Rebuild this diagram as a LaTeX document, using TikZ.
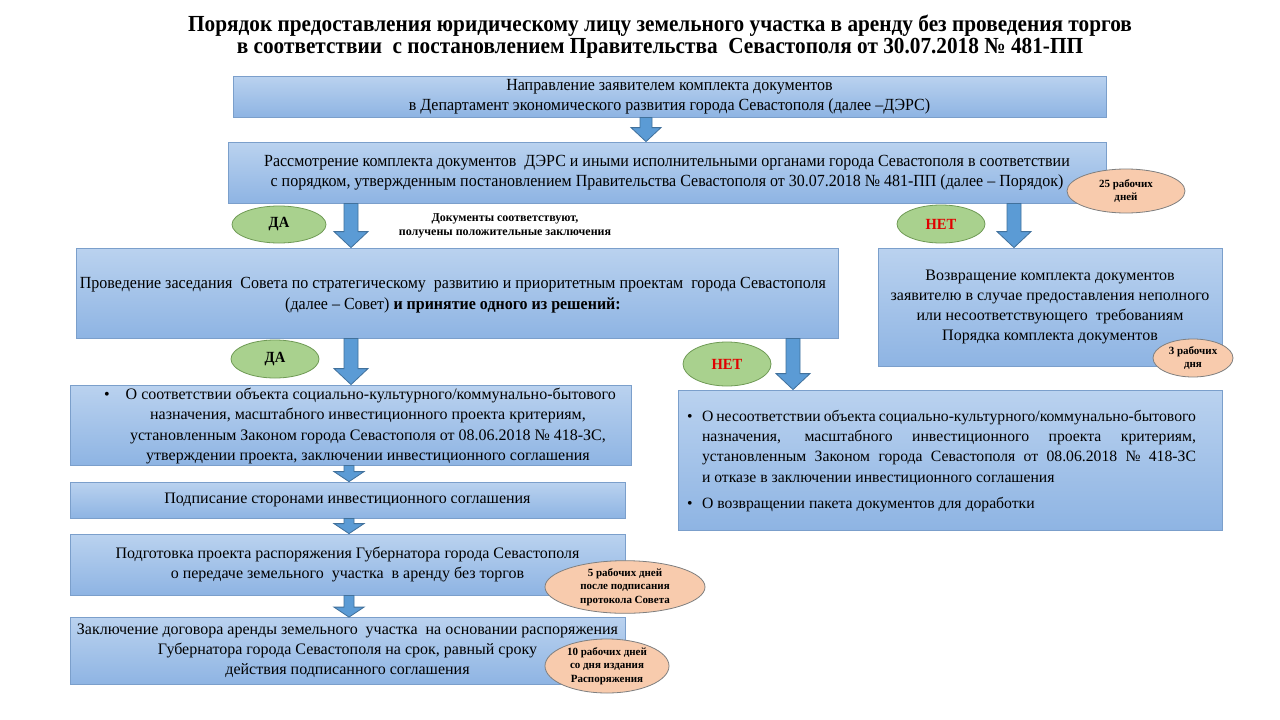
\documentclass[tikz,border=0pt]{standalone}
\usepackage{fontspec}
\setmainfont{Liberation Serif}
\newfontfamily\condf[FakeStretch=0.94]{Liberation Serif}
\newfontfamily\titlef[FakeStretch=0.925]{Liberation Serif}
\usetikzlibrary{shapes.geometric,calc}
\definecolor{boxtop}{HTML}{BAD2EF}
\definecolor{boxbot}{HTML}{8EB4E3}
\definecolor{boxline}{HTML}{7B9FCB}
\definecolor{arrfill}{HTML}{5B9BD5}
\definecolor{arrline}{HTML}{41719C}
\definecolor{grfill}{HTML}{A9D18E}
\definecolor{grline}{HTML}{6F9A55}
\definecolor{orfill}{HTML}{F8CBAD}
\definecolor{orline}{HTML}{7F7F7F}
\definecolor{netred}{HTML}{E00000}
\newcommand{\barrow}[6]{%
  \path (#1,0) coordinate (bx);
  \path (#2.south -| bx) coordinate (bt) (#3.north -| bx) coordinate (bb);
  \filldraw[barr] ($(bt)+(-#4,0)$) -- ($(bt)+(#4,0)$) -- ($(bb)+(#4,-#6)$) -- ($(bb)+(#5,-#6)$) -- (bb) -- ($(bb)+(-#5,-#6)$) -- ($(bb)+(-#4,-#6)$) -- cycle;
}
\begin{document}
\begin{tikzpicture}[x=1pt,y=-1pt,
  box/.style={draw=boxline, line width=0.8pt, top color=boxtop, bottom color=boxbot, inner sep=0pt},
  barr/.style={fill=arrfill, draw=arrline, line width=0.8pt, line join=miter},
  gell/.style={ellipse, draw=grline, fill=grfill, line width=0.8pt, inner sep=0pt, font=\condf\fontsize{15.5}{17}\selectfont\bfseries},
  oell/.style={ellipse, draw=orline, fill=orfill, line width=0.8pt, inner sep=0pt, align=center, font=\fontsize{11}{13.5}\selectfont\bfseries},
  normf/.style={font=\fontsize{16}{20.2}\selectfont},
  condt/.style={font=\condf\fontsize{17}{20}\selectfont}
]
\useasboundingbox (0,0) rectangle (1280,720);
\fill[white] (0,0) rectangle (1280,720);

% title
\node[align=center, font=\titlef\fontsize{23}{22}\selectfont\bfseries] (title) at (660,36.5)
  {Порядок предоставления юридическому лицу земельного участка в аренду без проведения торгов\\
   в соответствии\ \ с постановлением Правительства\ \ Севастополя от 30.07.2018 № 481-ПП};

% boxes
\node[box, condt, minimum width=873, minimum height=41, align=center] (b1) at (669.5,96.5)
  {Направление заявителем комплекта документов\\в Департамент экономического развития города Севастополя (далее –ДЭРС)};
\node[box, condt, minimum width=878, minimum height=61, align=center] (b2) at (667,172.5)
  {Рассмотрение комплекта документов\ \ ДЭРС и иными исполнительными органами города Севастополя в соответствии\\
   с порядком, утвержденным постановлением Правительства Севастополя от 30.07.2018 № 481-ПП (далее – Порядок)};
\node[box, minimum width=762, minimum height=90] (b3) at (457,293) {};
\node[font=\condf\fontsize{17}{21}\selectfont, align=center] (b3t) at (453,295)
  {Проведение заседания\ \ Совета по стратегическому\ \ развитию и приоритетным проектам\ \ города Севастополя\\
   (далее – Совет) \textbf{и принятие одного из решений:}};
\node[box, normf, minimum width=344, minimum height=118, align=center] (b4) at (1050,307)
  {Возвращение комплекта документов\\заявителю в случае предоставления неполного\\или несоответствующего\ \ требованиям\\Порядка комплекта документов};
\node[box, minimum width=561, minimum height=80] (b5) at (350.5,425) {};
\node[normf, align=center] (b5t) at (360,426)
  {•\quad О соответствии объекта социально-культурного/коммунально-бытового\\
   \hspace*{16pt}назначения, масштабного инвестиционного проекта критериям,\\
   \hspace*{16pt}установленным Законом города Севастополя от 08.06.2018 № 418-ЗС,\\
   \hspace*{16pt}утверждении проекта, заключении инвестиционного соглашения};
\node[box, minimum width=544, minimum height=140] (b6) at (950,460) {};
\node[font=\fontsize{15.7}{20.2}\selectfont, text width=509, align=justify, inner sep=0pt] (b6t) at (941.5,461)
  {\hyphenpenalty=10000\exhyphenpenalty=10000
   \hangindent=15pt\hangafter=1\makebox[15pt][l]{•}О несоответствии объекта социально-культурного/коммунально-бытового\linebreak
   назначения, масштабного инвестиционного проекта критериям,\linebreak
   установленным Законом города Севастополя от 08.06.2018 № 418-ЗС\linebreak
   и отказе в заключении инвестиционного соглашения\par\vspace{6pt}
   \hangindent=15pt\hangafter=1\makebox[15pt][l]{•}О возвращении пакета документов для доработки};
\node[box, normf, minimum width=555, minimum height=36, align=center] (b7) at (347.5,500)
  {Подписание сторонами инвестиционного соглашения};
\node[box, normf, minimum width=555, minimum height=61, align=center] (b8) at (347.5,564.5)
  {Подготовка проекта распоряжения Губернатора города Севастополя\\о передаче земельного\ \ участка\ \ в аренду без торгов};
\node[box, normf, minimum width=555, minimum height=67, align=center] (b9) at (347.5,651)
  {Заключение договора аренды земельного\ \ участка\ \ на основании распоряжения\\Губернатора города Севастополя на срок, равный сроку\\действия подписанного соглашения};

% arrows
\barrow{646}{b1}{b2}{6}{15}{14}
\barrow{351}{b2}{b3}{7}{17}{16}
\barrow{1014}{b2}{b4}{7}{17}{16}
\barrow{351}{b3}{b5}{7}{17}{16}
\barrow{793}{b3}{b6}{7}{17}{16}
\barrow{349}{b5}{b7}{5}{15}{10}
\barrow{349}{b7}{b8}{5}{15}{10}
\barrow{349}{b8}{b9}{5}{15}{10}

% decision labels
\node[gell, minimum width=94, minimum height=37] (da1) at (279,224.5) {ДА};
\node[gell, minimum width=88, minimum height=38, text=netred] (net1) at (941,224) {НЕТ};
\node[gell, minimum width=88, minimum height=38] (da2) at (275,359) {ДА};
\node[gell, minimum width=88, minimum height=44, text=netred] (net2) at (727,364) {НЕТ};
\node[align=center, font=\fontsize{12}{14}\selectfont\bfseries] (cond) at (505,226)
  {Документы соответствуют,\\получены положительные заключения};

% time labels
\node[oell, minimum width=118, minimum height=44] (t25) at (1126,191) {25 рабочих\\дней};
\node[oell, minimum width=80, minimum height=38] (t3) at (1193,358) {3 рабочих\\дня};
\node[oell, minimum width=160, minimum height=44] (t5) at (625,587) {5 рабочих дней\\после подписания\\протокола Совета};
\node[oell, minimum width=124, minimum height=54] (t10) at (607,666) {10 рабочих дней\\со дня издания\\Распоряжения};
\end{tikzpicture}
\end{document}
